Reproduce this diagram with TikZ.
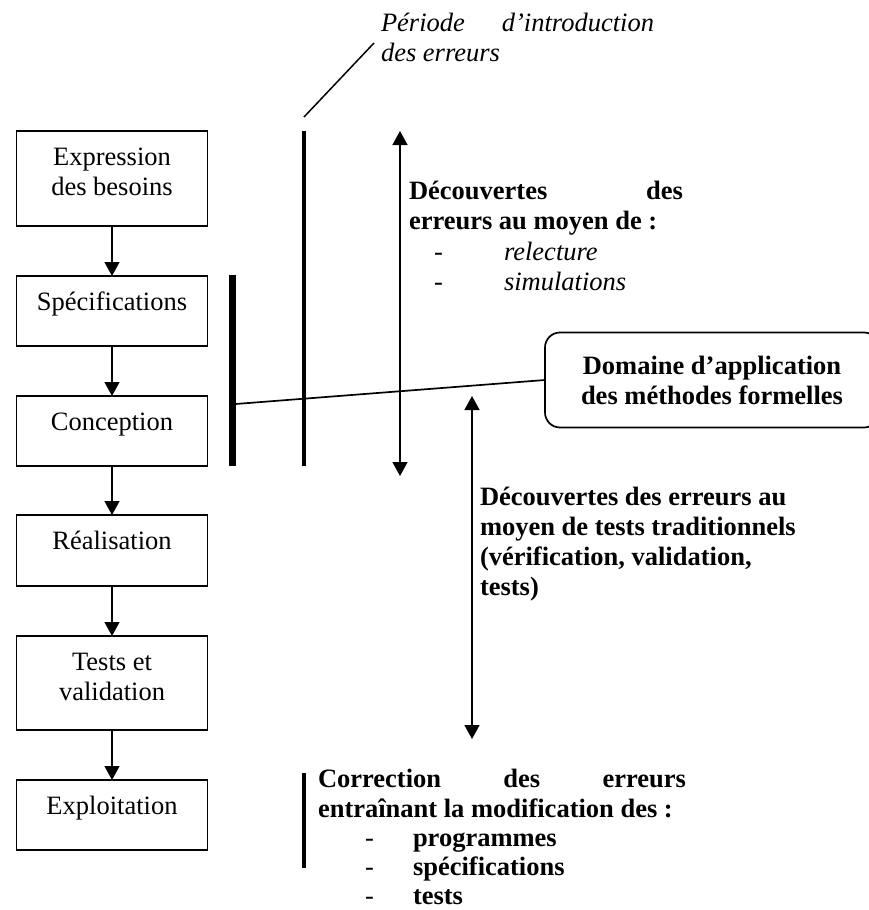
\documentclass[tikz,border=0pt]{standalone}
\usepackage{fontspec}
\setmainfont{Liberation Serif}
\usetikzlibrary{arrows.meta}
\begin{document}
\begin{tikzpicture}[x=1pt,y=-1pt,
  every node/.style={inner sep=0pt, outer sep=0pt},
  stage/.style={draw, line width=1.7pt, minimum width=191pt, anchor=north},
  txt/.style={font=\fontsize{26.5}{30}\selectfont},
  btxt/.style={font=\fontsize{26.5}{30}\selectfont\bfseries},
  itxt/.style={font=\fontsize{26.5}{30}\selectfont\itshape},
  bar/.style={fill=black, anchor=north},
  flow/.style={line width=1.3pt, -{Triangle[width=15pt,length=14pt]}},
  span/.style={line width=1.5pt, {Triangle[width=15pt,length=14pt]}-{Triangle[width=15pt,length=14pt]}},
  ]
\useasboundingbox (0,0) rectangle (869,910);

% stage boxes
\node[stage, minimum height=95pt] (b1) at (112,131) {};
\node[stage, minimum height=70pt] (b2) at (112,276) {};
\node[stage, minimum height=70pt] (b3) at (112,396) {};
\node[stage, minimum height=71pt] (b4) at (112,515) {};
\node[stage, minimum height=94pt] (b5) at (112,636) {};
\node[stage, minimum height=70pt] (b6) at (112,780) {};

\node[txt, anchor=base] (t1) at (112,165) {\begin{tabular}[t]{@{}c@{}}Expression\\des besoins\end{tabular}};
\node[txt, anchor=base] (t2) at (112,310) {Spécifications};
\node[txt, anchor=base] (t3) at (112,430) {Conception};
\node[txt, anchor=base] (t4) at (112,549) {Réalisation};
\node[txt, anchor=base] (t5) at (112,670) {\begin{tabular}[t]{@{}c@{}}Tests et\\validation\end{tabular}};
\node[txt, anchor=base] (t6) at (112,814) {Exploitation};

\draw[flow] (b1) -- (b2);
\draw[flow] (b2) -- (b3);
\draw[flow] (b3) -- (b4);
\draw[flow] (b4) -- (b5);
\draw[flow] (b5) -- (b6);

% bars
\node[bar, minimum width=7pt, minimum height=191pt] (specbar) at (232,275) {};
\node[bar, minimum width=3.5pt, minimum height=335pt] (periodbar) at (304,131) {};
\node[bar, minimum width=3.5pt, minimum height=95pt] (corrbar) at (304,773) {};

% period label
\coordinate (d1) at (304,117);
\coordinate (d2) at (374,43);
\draw[line width=1.5pt] (d1) -- (d2);
\node[itxt, anchor=base west] (per1) at (381,31) {\hbox to 273pt{Période\hfill d’introduction}};
\node[itxt, anchor=base west] (per2) at (381,61) {des erreurs};

% formal methods box
\node[draw, line width=1.7pt, rounded corners=15pt, minimum width=334pt, minimum height=95pt,
      btxt, align=center] (dom) at (712,380) {Domaine d’application\\des méthodes formelles};
\draw[line width=1.7pt] ([yshift=-33.5pt]specbar.east) -- (dom.west);

% spans
\coordinate (s1a) at (400,131);
\coordinate (s1b) at (400,476);
\draw[span] (s1a) -- (s1b);
\coordinate (s2a) at (472,396);
\coordinate (s2b) at (472,739);
\draw[span] (s2a) -- (s2b);

% discovery 1
\node[btxt, anchor=base west] (dc1) at (409,199) {\hbox to 274pt{Découvertes\hfill des}};
\node[btxt, anchor=base west] (dc2) at (409,229) {erreurs au moyen de :};
\node[txt, anchor=base west] (dash1) at (434,260) {-};
\node[itxt, anchor=base west] (relec) at (504,260) {relecture};
\node[txt, anchor=base west] (dash2) at (434,290) {-};
\node[itxt, anchor=base west] (simu) at (504,290) {simulations};

% discovery 2
\node[btxt, anchor=base west] (dt) at (480,505) {\begin{tabular}[t]{@{}l@{}}Découvertes des erreurs au\\moyen de tests traditionnels\\(vérification, validation,\\tests)\end{tabular}};

% correction
\node[btxt, anchor=base west] (cr1) at (318,787) {\hbox to 368pt{Correction\hfill des\hfill erreurs}};
\node[btxt, anchor=base west] (cr2) at (318,817) {entraînant la modification des :};
\node[txt, anchor=base west] (dash3) at (365,846) {-};
\node[btxt, anchor=base west] (it1) at (413,846) {programmes};
\node[txt, anchor=base west] (dash4) at (365,875) {-};
\node[btxt, anchor=base west] (it2) at (413,875) {spécifications};
\node[txt, anchor=base west] (dash5) at (365,904) {-};
\node[btxt, anchor=base west] (it3) at (413,904) {tests};
\end{tikzpicture}
\end{document}
